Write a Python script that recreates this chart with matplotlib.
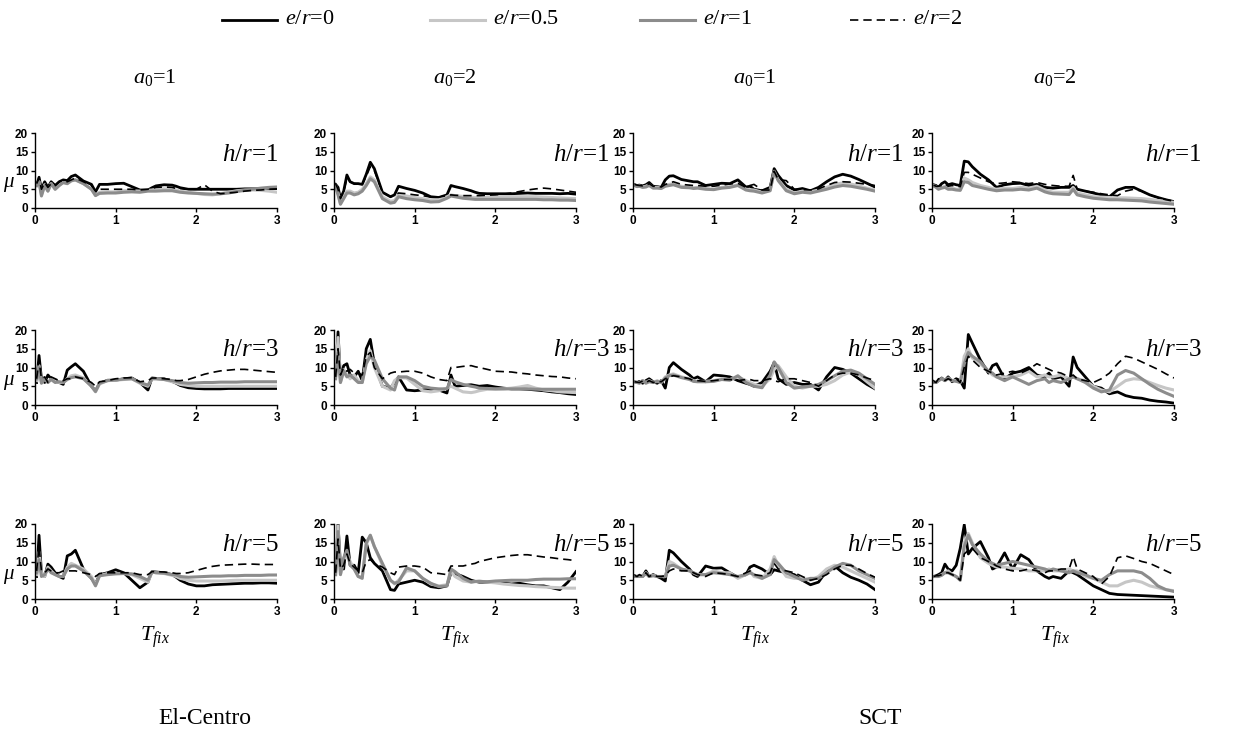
import matplotlib.pyplot as plt
from matplotlib.lines import Line2D

plt.rcParams['mathtext.fontset'] = 'custom'
plt.rcParams['mathtext.rm'] = 'Liberation Serif'
plt.rcParams['mathtext.it'] = 'Liberation Serif:italic'

W, H = 1248, 746

# period grid (T_fix) shared by all curves
T = [0.02, 0.05, 0.08, 0.12, 0.16, 0.2, 0.25, 0.3, 0.35, 0.4,
     0.45, 0.5, 0.6, 0.7, 0.75, 0.8, 0.9, 1.0, 1.1, 1.2,
     1.3, 1.4, 1.45, 1.5, 1.6, 1.7, 1.75, 1.8, 1.9, 2.0,
     2.1, 2.2, 2.3, 2.4, 2.5, 2.6, 2.7, 2.8, 2.9, 3.0]

legend_labels = ['0', '0.5', '1', '2']
records = ['El-Centro', 'SCT']
a0_values = ['1', '2', '1', '2']
hr_values = ['1', '3', '5']

# El-Centro, a0=1
ec1_h1_e0 = [6.0, 8.2, 5.0, 7.0, 5.5, 7.0, 6.0, 7.0, 7.5, 7.3, 8.4, 8.8, 7.2, 6.3, 4.3, 6.3, 6.3, 6.5, 6.6, 5.7, 4.8, 4.8, 5.4, 5.9, 6.2, 6.1, 5.8, 5.4, 5.0, 5.0, 5.0, 5.0, 5.0, 5.0, 5.0, 5.1, 5.1, 5.1, 5.1, 5.2]
ec1_h1_e05 = [6.0, 7.0, 3.5, 6.2, 4.5, 6.5, 5.0, 6.0, 6.8, 6.5, 7.2, 7.5, 6.5, 5.0, 3.4, 4.2, 4.3, 4.3, 4.6, 4.6, 4.5, 4.7, 4.8, 5.0, 5.1, 5.0, 4.8, 4.5, 4.2, 3.9, 3.6, 3.5, 3.8, 4.2, 4.6, 4.8, 4.8, 4.7, 4.5, 4.2]
ec1_h1_e1 = [6.0, 7.0, 3.2, 6.0, 4.5, 6.5, 5.0, 6.0, 6.8, 6.5, 7.3, 7.5, 6.5, 5.0, 3.3, 3.9, 4.0, 4.0, 4.2, 4.3, 4.2, 4.5, 4.5, 4.5, 4.6, 4.6, 4.4, 4.2, 4.0, 3.9, 3.8, 3.7, 3.8, 4.0, 4.4, 4.7, 5.0, 5.3, 5.5, 5.6]
ec1_h1_e2 = [6.5, 8.0, 5.0, 6.8, 5.5, 6.5, 6.0, 7.0, 7.3, 7.0, 7.5, 8.0, 7.0, 6.0, 4.5, 5.0, 5.0, 5.0, 5.0, 5.0, 4.8, 5.0, 5.2, 5.5, 5.6, 5.5, 5.2, 5.2, 5.0, 5.0, 6.2, 4.5, 3.8, 4.0, 4.2, 4.5, 4.7, 4.8, 5.0, 5.1]

ec1_h3_e0 = [6.0, 13.2, 7.0, 6.0, 8.0, 7.0, 6.5, 6.0, 5.5, 9.3, 10.2, 11.0, 9.0, 5.0, 3.8, 5.8, 6.6, 6.6, 7.0, 7.2, 6.0, 4.0, 7.2, 7.1, 7.0, 6.3, 5.8, 5.2, 4.6, 4.4, 4.3, 4.3, 4.3, 4.4, 4.4, 4.4, 4.4, 4.4, 4.4, 4.4]
ec1_h3_e05 = [6.5, 10.5, 6.0, 7.0, 6.0, 7.0, 6.3, 6.0, 6.0, 7.0, 7.8, 8.0, 7.2, 5.0, 3.5, 5.6, 6.5, 6.6, 6.8, 7.0, 5.8, 5.0, 7.0, 7.0, 6.8, 6.2, 5.9, 5.5, 5.2, 5.0, 5.0, 5.0, 5.0, 5.0, 5.0, 5.0, 5.0, 5.0, 5.0, 5.0]
ec1_h3_e1 = [7.0, 10.0, 5.8, 7.0, 6.0, 6.8, 6.0, 6.2, 6.0, 6.8, 7.3, 7.5, 7.0, 5.0, 3.6, 5.8, 6.5, 6.7, 6.9, 7.0, 6.0, 5.3, 7.0, 7.0, 6.8, 6.5, 6.3, 6.0, 5.8, 5.9, 6.0, 6.0, 6.1, 6.1, 6.1, 6.2, 6.2, 6.2, 6.2, 6.2]
ec1_h3_e2 = [7.0, 12.0, 7.0, 7.5, 6.0, 7.5, 7.0, 6.5, 6.5, 7.0, 7.0, 7.5, 7.0, 6.0, 5.0, 6.2, 6.5, 7.0, 7.2, 7.3, 6.2, 6.5, 7.2, 7.2, 7.0, 6.8, 6.5, 6.5, 6.8, 7.5, 8.2, 8.7, 9.1, 9.3, 9.5, 9.5, 9.3, 9.1, 8.9, 8.7]

ec1_h5_e0 = [6.0, 17.0, 7.0, 6.0, 9.3, 8.5, 7.0, 6.0, 5.5, 11.5, 12.0, 13.0, 8.0, 5.5, 4.0, 6.5, 7.0, 7.8, 7.0, 5.0, 3.0, 4.5, 7.3, 7.2, 7.0, 6.5, 5.8, 5.0, 4.0, 3.5, 3.5, 3.8, 3.9, 4.0, 4.1, 4.2, 4.2, 4.3, 4.3, 4.2]
ec1_h5_e05 = [6.5, 12.5, 7.0, 6.0, 8.5, 7.5, 6.5, 6.0, 6.0, 8.5, 9.5, 9.0, 8.0, 6.0, 3.8, 6.2, 6.8, 6.8, 6.8, 6.5, 5.5, 4.5, 7.2, 7.0, 6.8, 6.3, 6.0, 5.5, 5.0, 4.8, 4.8, 4.8, 4.8, 4.9, 5.0, 5.0, 5.0, 5.0, 5.0, 5.0]
ec1_h5_e1 = [7.0, 10.5, 6.0, 6.5, 8.0, 7.0, 6.5, 6.0, 6.0, 8.0, 8.8, 8.8, 7.5, 5.5, 3.5, 6.2, 6.5, 6.7, 6.8, 6.7, 6.0, 5.0, 7.2, 7.0, 6.9, 6.5, 6.4, 6.0, 5.8, 5.9, 6.0, 6.1, 6.1, 6.2, 6.2, 6.3, 6.3, 6.3, 6.4, 6.4]
ec1_h5_e2 = [7.5, 14.0, 7.5, 7.0, 8.0, 7.5, 7.0, 7.0, 7.5, 7.5, 7.5, 7.5, 7.0, 6.5, 6.0, 6.8, 7.0, 7.0, 7.0, 7.0, 6.5, 6.5, 7.3, 7.3, 7.2, 7.0, 6.8, 6.8, 7.0, 7.6, 8.2, 8.7, 9.0, 9.1, 9.2, 9.3, 9.3, 9.2, 9.2, 9.2]

# El-Centro, a0=2
ec2_h1_e0 = [6.3, 5.5, 2.5, 4.5, 8.8, 7.0, 6.5, 6.5, 6.3, 9.0, 12.2, 10.5, 4.2, 3.0, 3.5, 5.8, 5.2, 4.7, 4.0, 3.0, 2.8, 3.5, 6.0, 5.7, 5.2, 4.6, 4.2, 3.9, 3.8, 3.8, 3.8, 3.8, 3.9, 4.0, 3.9, 3.9, 3.9, 3.8, 3.9, 3.7]
ec2_h1_e05 = [6.0, 4.0, 1.2, 3.0, 4.5, 4.5, 4.0, 4.2, 5.0, 6.5, 8.3, 7.5, 3.0, 1.8, 2.0, 3.5, 3.2, 2.8, 2.5, 2.1, 2.2, 3.0, 3.5, 3.3, 3.1, 2.9, 2.8, 2.8, 2.8, 2.9, 3.0, 3.0, 3.0, 3.0, 3.0, 2.9, 2.8, 2.7, 2.6, 2.5]
ec2_h1_e1 = [5.8, 3.5, 1.0, 2.5, 4.0, 4.0, 3.5, 3.8, 4.5, 6.0, 7.8, 7.0, 2.5, 1.3, 1.5, 3.0, 2.5, 2.2, 2.0, 1.6, 1.7, 2.6, 3.2, 3.0, 2.6, 2.4, 2.3, 2.3, 2.3, 2.3, 2.3, 2.3, 2.3, 2.3, 2.3, 2.2, 2.2, 2.1, 2.1, 2.0]
ec2_h1_e2 = [6.5, 5.0, 2.5, 4.3, 8.0, 7.0, 6.5, 6.5, 6.3, 8.5, 11.0, 10.0, 4.2, 3.0, 3.3, 4.0, 3.8, 3.5, 3.3, 2.9, 2.9, 3.3, 3.5, 3.4, 3.3, 3.3, 3.3, 3.3, 3.4, 3.5, 3.7, 4.0, 4.4, 4.8, 5.1, 5.3, 5.1, 4.8, 4.5, 4.2]

ec2_h3_e0 = [8.0, 19.5, 7.0, 10.5, 11.0, 8.0, 7.5, 9.0, 6.5, 15.0, 17.5, 11.0, 5.0, 4.5, 6.0, 7.5, 4.0, 3.8, 4.0, 4.2, 4.0, 3.2, 8.0, 5.0, 5.2, 5.4, 5.2, 5.0, 5.2, 4.8, 4.5, 4.3, 4.3, 4.2, 4.0, 3.8, 3.5, 3.3, 3.0, 2.8]
ec2_h3_e05 = [8.0, 18.0, 6.0, 9.5, 8.0, 7.0, 8.0, 6.5, 6.0, 12.0, 14.5, 10.0, 5.0, 4.0, 6.5, 7.3, 7.2, 5.5, 3.8, 3.5, 3.8, 4.5, 5.0, 4.5, 3.5, 3.3, 3.5, 3.8, 4.2, 4.2, 4.3, 4.5, 4.8, 5.2, 4.5, 4.0, 3.8, 3.5, 3.4, 3.3]
ec2_h3_e1 = [7.0, 14.0, 6.0, 9.0, 7.5, 8.0, 7.0, 6.0, 6.0, 11.0, 13.0, 12.0, 7.0, 4.5, 4.0, 7.5, 7.5, 6.5, 5.0, 4.5, 4.3, 4.3, 6.8, 6.2, 5.5, 5.0, 4.8, 4.5, 4.4, 4.3, 4.3, 4.3, 4.3, 4.3, 4.2, 4.2, 4.2, 4.2, 4.2, 4.2]
ec2_h3_e2 = [7.5, 15.0, 8.0, 10.0, 9.0, 9.5, 8.5, 8.5, 8.0, 13.0, 14.0, 10.0, 7.0, 8.5, 8.8, 8.8, 9.0, 9.0, 8.5, 7.5, 6.8, 6.5, 10.0, 10.0, 10.3, 10.5, 10.2, 10.0, 9.5, 9.0, 8.9, 8.8, 8.5, 8.3, 8.0, 7.8, 7.6, 7.5, 7.2, 7.0]

ec2_h5_e0 = [7.0, 20.0, 9.0, 8.0, 16.8, 9.0, 9.0, 7.0, 16.5, 15.0, 11.0, 9.5, 7.5, 2.5, 2.3, 4.0, 4.5, 5.0, 4.5, 3.3, 3.0, 3.5, 7.0, 6.8, 6.0, 5.0, 4.7, 4.5, 4.5, 4.5, 4.2, 4.0, 4.2, 3.8, 3.5, 3.5, 3.0, 2.5, 4.5, 7.3]
ec2_h5_e05 = [6.5, 19.5, 6.5, 10.0, 12.0, 10.0, 8.0, 6.0, 6.0, 14.5, 17.0, 14.0, 9.0, 5.0, 4.0, 5.0, 7.5, 7.5, 5.5, 4.0, 3.5, 3.8, 7.5, 6.0, 4.8, 4.5, 4.6, 4.8, 4.5, 4.3, 4.0, 3.8, 3.6, 3.5, 3.3, 3.2, 3.1, 3.0, 2.9, 2.9]
ec2_h5_e1 = [6.5, 18.0, 6.5, 11.0, 13.0, 9.0, 8.0, 6.0, 5.5, 15.0, 17.0, 14.0, 9.5, 5.0, 4.2, 4.5, 8.3, 7.5, 5.5, 4.2, 3.3, 3.5, 8.0, 7.3, 5.5, 4.5, 4.7, 4.7, 4.6, 4.8, 4.9, 5.0, 5.0, 5.0, 5.2, 5.3, 5.3, 5.3, 5.4, 5.4]
ec2_h5_e2 = [7.0, 16.0, 8.0, 9.0, 12.0, 9.5, 8.5, 7.5, 7.0, 10.0, 10.5, 9.5, 8.5, 7.0, 6.5, 8.5, 8.8, 8.8, 8.5, 7.0, 6.8, 6.5, 8.8, 8.8, 8.8, 9.3, 9.5, 10.0, 10.5, 11.0, 11.3, 11.6, 11.8, 11.8, 11.5, 11.2, 11.0, 10.7, 10.5, 10.2]

# SCT, a0=1
sct1_h1_e0 = [6.2, 6.0, 6.1, 5.9, 6.2, 6.8, 5.8, 5.7, 5.5, 7.5, 8.5, 8.6, 7.6, 7.2, 7.0, 7.0, 6.0, 6.3, 6.6, 6.5, 7.5, 5.6, 5.8, 5.0, 4.6, 5.5, 10.5, 8.7, 6.0, 4.8, 5.2, 4.6, 5.5, 7.0, 8.3, 9.0, 8.5, 7.6, 6.6, 5.6]
sct1_h1_e05 = [6.0, 5.8, 5.9, 5.6, 5.8, 6.2, 5.5, 5.5, 5.3, 6.0, 6.3, 6.5, 5.8, 5.6, 5.4, 5.5, 5.2, 5.0, 5.5, 5.7, 6.2, 5.0, 4.9, 4.8, 4.2, 4.8, 9.5, 7.5, 5.0, 4.0, 4.5, 4.3, 4.8, 5.5, 6.3, 6.7, 6.4, 5.9, 5.3, 4.8]
sct1_h1_e1 = [6.0, 5.7, 5.8, 5.5, 5.6, 6.0, 5.3, 5.3, 5.2, 5.8, 6.0, 6.2, 5.5, 5.4, 5.2, 5.3, 5.0, 4.9, 5.3, 5.5, 6.0, 4.8, 4.6, 4.5, 4.0, 4.6, 9.8, 7.3, 4.6, 3.8, 4.2, 4.0, 4.5, 5.0, 5.6, 6.0, 5.8, 5.4, 5.0, 4.5]
sct1_h1_e2 = [6.3, 6.1, 6.0, 5.9, 6.0, 6.5, 5.8, 5.8, 5.6, 6.3, 6.6, 7.0, 6.3, 6.1, 6.0, 6.0, 5.8, 5.8, 6.1, 6.4, 6.6, 5.5, 6.0, 6.3, 4.8, 4.8, 9.8, 7.6, 7.3, 5.0, 4.9, 4.8, 5.1, 6.0, 6.8, 7.0, 6.9, 6.6, 6.3, 6.0]

sct1_h3_e0 = [6.2, 6.0, 6.3, 5.8, 6.5, 7.0, 6.2, 5.8, 6.5, 4.5, 10.0, 11.3, 9.5, 8.0, 7.0, 7.5, 6.2, 8.0, 7.8, 7.5, 6.5, 5.8, 5.5, 5.0, 6.0, 9.0, 11.3, 7.0, 5.5, 6.0, 5.5, 5.5, 4.0, 7.5, 10.0, 9.5, 8.5, 7.0, 5.5, 4.3]
sct1_h3_e05 = [6.2, 6.0, 6.0, 6.5, 6.0, 6.5, 6.0, 6.5, 6.0, 7.5, 8.0, 8.3, 7.5, 7.0, 6.5, 6.3, 6.3, 6.5, 7.0, 6.8, 7.5, 6.5, 6.0, 5.5, 5.0, 7.0, 9.5, 10.5, 7.5, 5.0, 4.5, 5.0, 5.0, 5.5, 6.5, 8.0, 8.8, 8.0, 6.2, 4.5]
sct1_h3_e1 = [6.2, 6.0, 5.8, 6.5, 5.8, 6.2, 6.0, 6.3, 6.0, 7.2, 7.8, 8.0, 7.3, 6.8, 6.3, 6.2, 6.2, 6.3, 6.8, 6.6, 7.8, 6.0, 5.5, 5.0, 4.6, 8.0, 11.5, 10.0, 6.0, 4.5, 4.8, 5.0, 5.5, 6.5, 7.8, 9.0, 9.3, 8.5, 7.0, 5.5]
sct1_h3_e2 = [6.2, 6.1, 6.0, 6.4, 6.0, 6.5, 6.0, 6.3, 6.2, 7.0, 7.5, 7.8, 7.5, 7.0, 6.5, 6.5, 6.3, 6.5, 6.8, 6.8, 6.5, 6.8, 6.8, 6.5, 6.5, 7.0, 6.5, 6.2, 7.0, 7.0, 6.5, 6.0, 5.0, 6.5, 8.0, 8.5, 8.5, 8.0, 7.2, 6.5]

sct1_h5_e0 = [6.2, 6.0, 6.3, 6.0, 7.5, 6.0, 6.5, 6.0, 5.5, 4.8, 13.0, 12.3, 10.0, 8.0, 6.5, 6.0, 8.8, 8.2, 8.3, 7.0, 5.8, 6.5, 8.5, 9.0, 8.0, 6.5, 7.8, 7.5, 7.0, 6.5, 5.0, 3.8, 4.5, 7.5, 8.8, 7.0, 5.8, 5.0, 4.0, 2.5]
sct1_h5_e05 = [6.0, 6.0, 6.3, 6.0, 7.0, 6.0, 6.3, 6.0, 6.0, 6.0, 10.0, 9.5, 8.0, 7.5, 7.0, 6.5, 6.5, 7.5, 7.0, 7.0, 5.5, 6.5, 7.5, 6.0, 5.5, 8.0, 11.3, 9.0, 6.0, 5.5, 5.5, 5.0, 6.0, 8.0, 9.0, 8.5, 7.5, 6.5, 5.5, 4.5]
sct1_h5_e1 = [6.0, 6.0, 6.0, 6.0, 6.8, 6.0, 6.2, 6.0, 6.0, 6.0, 8.8, 9.0, 8.0, 7.5, 7.0, 6.5, 6.5, 7.0, 6.8, 6.5, 6.0, 6.5, 7.0, 6.5, 5.5, 6.5, 10.5, 9.5, 7.0, 6.0, 5.0, 5.5, 5.5, 7.0, 8.5, 9.5, 9.0, 7.5, 6.5, 5.5]
sct1_h5_e2 = [6.3, 6.0, 6.5, 6.0, 7.0, 6.0, 6.5, 6.0, 6.0, 6.2, 7.5, 8.0, 7.5, 7.5, 7.0, 6.5, 6.0, 7.0, 6.8, 6.5, 6.0, 7.0, 7.5, 6.5, 6.2, 7.0, 9.5, 8.0, 7.5, 7.0, 6.0, 5.0, 5.5, 6.5, 8.0, 9.0, 9.0, 8.0, 6.8, 5.8]

# SCT, a0=2
sct2_h1_e0 = [6.2, 6.0, 5.5, 6.5, 7.0, 6.2, 6.5, 6.2, 6.0, 12.5, 12.3, 11.0, 9.0, 7.5, 6.5, 5.5, 6.2, 6.5, 6.6, 6.0, 6.3, 5.5, 5.4, 5.3, 5.5, 5.5, 6.0, 5.0, 4.5, 4.0, 3.5, 3.0, 4.8, 5.5, 5.5, 4.5, 3.5, 2.8, 2.2, 1.7]
sct2_h1_e05 = [6.0, 5.7, 5.3, 5.5, 5.8, 5.2, 5.4, 5.0, 5.0, 8.0, 7.5, 6.8, 6.0, 5.5, 5.2, 5.0, 5.3, 5.2, 5.5, 5.3, 5.8, 4.8, 4.5, 4.2, 4.2, 4.2, 5.5, 4.0, 3.5, 3.0, 2.9, 2.8, 2.7, 2.7, 2.6, 2.5, 2.3, 2.0, 1.8, 1.5]
sct2_h1_e1 = [5.9, 5.5, 5.0, 5.3, 5.5, 5.0, 5.0, 4.8, 4.7, 7.0, 6.8, 6.0, 5.5, 5.0, 4.8, 4.6, 4.8, 4.8, 5.0, 4.8, 5.3, 4.3, 4.0, 3.8, 3.7, 3.6, 5.0, 3.5, 3.0, 2.6, 2.4, 2.2, 2.2, 2.1, 2.0, 1.9, 1.6, 1.4, 1.2, 1.0]
sct2_h1_e2 = [6.1, 5.8, 5.8, 6.0, 6.5, 5.8, 6.0, 5.8, 5.7, 9.5, 9.5, 9.0, 8.0, 7.0, 6.7, 6.5, 6.7, 7.0, 6.8, 6.5, 6.8, 6.3, 6.1, 6.0, 5.8, 5.8, 8.7, 5.0, 4.5, 4.2, 3.8, 3.5, 3.3, 4.5, 5.0, 4.5, 3.5, 2.8, 2.2, 1.8]

sct2_h3_e0 = [6.3, 6.0, 6.5, 7.2, 6.5, 7.5, 6.2, 7.0, 6.5, 4.5, 18.8, 16.5, 12.0, 8.5, 10.5, 11.0, 7.0, 8.5, 9.0, 10.0, 8.0, 7.5, 8.5, 7.0, 7.5, 5.0, 12.8, 10.0, 7.5, 5.0, 4.5, 3.0, 3.5, 2.5, 2.0, 1.8, 1.3, 1.0, 0.8, 0.5]
sct2_h3_e05 = [6.0, 6.2, 6.5, 7.0, 6.5, 7.0, 6.5, 6.5, 6.0, 13.0, 15.0, 12.5, 11.0, 9.0, 8.0, 7.5, 7.5, 7.5, 8.0, 9.0, 7.5, 8.0, 7.5, 7.5, 8.0, 7.0, 7.5, 7.0, 6.5, 5.0, 4.0, 3.5, 5.0, 6.5, 7.0, 6.8, 6.0, 5.2, 4.5, 4.0]
sct2_h3_e1 = [6.0, 6.0, 6.5, 7.0, 6.5, 7.2, 6.5, 6.3, 6.0, 11.0, 14.0, 13.0, 11.5, 9.0, 8.5, 7.5, 6.5, 7.5, 6.5, 5.5, 6.5, 7.0, 6.0, 6.5, 6.0, 7.0, 7.5, 7.0, 6.0, 4.5, 3.5, 4.0, 8.0, 9.2, 8.5, 7.0, 5.5, 4.2, 3.2, 2.3]
sct2_h3_e2 = [6.3, 6.0, 7.0, 7.0, 6.5, 7.0, 6.5, 7.0, 6.0, 10.0, 13.0, 12.0, 10.0, 9.0, 8.5, 8.0, 8.5, 9.0, 8.5, 9.5, 11.0, 10.0, 9.5, 9.0, 8.5, 7.5, 8.0, 7.0, 6.5, 6.0, 7.0, 8.5, 11.0, 13.0, 12.5, 11.5, 10.5, 9.5, 8.3, 7.2]

sct2_h5_e0 = [6.0, 6.2, 6.5, 7.0, 9.3, 8.0, 7.5, 9.0, 13.5, 19.8, 12.0, 13.5, 15.3, 11.0, 8.0, 8.5, 12.3, 8.0, 11.8, 10.5, 7.5, 6.0, 5.5, 6.0, 5.5, 7.5, 7.0, 6.5, 5.0, 3.5, 2.5, 1.5, 1.2, 1.1, 1.0, 0.9, 0.8, 0.7, 0.6, 0.5]
sct2_h5_e05 = [6.0, 6.0, 6.0, 6.5, 7.0, 7.5, 6.5, 6.0, 5.0, 15.0, 17.5, 15.0, 11.0, 9.5, 9.0, 8.5, 8.5, 8.2, 8.0, 7.5, 7.5, 7.5, 8.0, 7.5, 7.5, 8.0, 7.5, 7.5, 6.0, 5.5, 4.5, 3.5, 3.5, 4.5, 5.0, 4.5, 3.5, 3.0, 2.5, 2.2]
sct2_h5_e1 = [6.0, 6.0, 6.0, 6.3, 7.0, 7.0, 6.5, 6.0, 5.0, 14.0, 17.0, 14.5, 12.0, 10.0, 9.5, 9.0, 9.5, 10.0, 9.5, 9.0, 8.5, 8.0, 7.5, 8.0, 7.5, 7.0, 7.5, 7.0, 6.5, 5.5, 5.0, 6.5, 7.5, 7.5, 7.5, 7.0, 5.5, 3.5, 2.5, 2.0]
sct2_h5_e2 = [6.0, 6.2, 6.2, 6.5, 7.0, 7.0, 6.5, 6.0, 5.0, 12.0, 13.0, 13.5, 11.0, 10.0, 9.5, 8.8, 8.0, 7.5, 7.5, 8.0, 7.5, 7.0, 7.5, 7.5, 8.0, 8.0, 11.3, 8.0, 7.0, 6.0, 4.0, 6.0, 11.0, 11.5, 10.8, 10.0, 9.5, 8.5, 7.5, 6.5]

grid = [
    [[ec1_h1_e0, ec1_h1_e05, ec1_h1_e1, ec1_h1_e2],
     [ec2_h1_e0, ec2_h1_e05, ec2_h1_e1, ec2_h1_e2],
     [sct1_h1_e0, sct1_h1_e05, sct1_h1_e1, sct1_h1_e2],
     [sct2_h1_e0, sct2_h1_e05, sct2_h1_e1, sct2_h1_e2]],
    [[ec1_h3_e0, ec1_h3_e05, ec1_h3_e1, ec1_h3_e2],
     [ec2_h3_e0, ec2_h3_e05, ec2_h3_e1, ec2_h3_e2],
     [sct1_h3_e0, sct1_h3_e05, sct1_h3_e1, sct1_h3_e2],
     [sct2_h3_e0, sct2_h3_e05, sct2_h3_e1, sct2_h3_e2]],
    [[ec1_h5_e0, ec1_h5_e05, ec1_h5_e1, ec1_h5_e2],
     [ec2_h5_e0, ec2_h5_e05, ec2_h5_e1, ec2_h5_e2],
     [sct1_h5_e0, sct1_h5_e05, sct1_h5_e1, sct1_h5_e2],
     [sct2_h5_e0, sct2_h5_e05, sct2_h5_e1, sct2_h5_e2]],
]

styles = [
    dict(color='black', lw=2.0),
    dict(color='#c6c6c6', lw=2.2),
    dict(color='#8c8c8c', lw=2.2),
    dict(color='black', lw=1.2, dashes=(5, 3)),
]

serif = 'Liberation Serif'
sans = 'Liberation Sans'

fig = plt.figure(figsize=(W / 100, H / 100), dpi=100)


def fx(x):
    return x / W


def fy(y):
    return 1 - y / H


col_left = [35, 334, 633, 932]
row_zero = [208, 405, 599]
ax_w, ax_h = 242, 75
hr_x = [222, 553, 847, 1145]
hr_y = [155, 350, 545]
col_center = [155, 455, 755, 1055]

for r in range(3):
    for c in range(4):
        ax = fig.add_axes([fx(col_left[c]), fy(row_zero[r]), ax_w / W, ax_h / H])
        for k in range(4):
            ax.plot(T, grid[r][c][k], solid_joinstyle='round', **styles[k])
        ax.set_xlim(0, 3)
        ax.set_ylim(0, 20)
        ax.set_xticks([0, 1, 2, 3])
        ax.set_yticks([0, 5, 10, 15, 20])
        for s in ['top', 'right']:
            ax.spines[s].set_visible(False)
        for s in ['left', 'bottom']:
            ax.spines[s].set_linewidth(1.0)
        ax.tick_params(direction='out', length=3, width=1, pad=2)
        for lab in ax.get_xticklabels() + ax.get_yticklabels():
            lab.set_fontfamily(sans)
            lab.set_fontweight('bold')
            lab.set_fontsize(8.5)
        fig.text(fx(hr_x[c]), fy(hr_y[r]), r'$h/r$=' + hr_values[r],
                 family=serif, fontsize=18, ha='left', va='center')

# column titles and x labels
for c in range(4):
    fig.text(fx(col_center[c]), fy(78), r'$a_{\mathit{0}}$=' + a0_values[c],
             family=serif, fontsize=16, ha='center', va='center')
    fig.text(fx(col_center[c]), fy(637), r'$T_{fix}$',
             family=serif, fontsize=16, ha='center', va='center')

# y labels
for y in [183, 380, 575]:
    fig.text(fx(8), fy(y), 'μ', family=serif, style='italic',
             fontsize=15, ha='center', va='center')

# legend
leg_x = [222, 430, 640, 850]
for k in range(4):
    fig.add_artist(Line2D([fx(leg_x[k]), fx(leg_x[k] + 55)], [fy(20), fy(20)],
                          transform=fig.transFigure, **styles[k]))
    fig.text(fx(leg_x[k] + 63), fy(20), r'$e/r$=' + legend_labels[k],
             family=serif, fontsize=16, ha='left', va='center')

# record names
fig.text(fx(205), fy(718), records[0], family=serif, fontsize=17,
         ha='center', va='center')
fig.text(fx(880), fy(718), records[1], family=serif, fontsize=17,
         ha='center', va='center')

fig.savefig('out.png', dpi=100)
